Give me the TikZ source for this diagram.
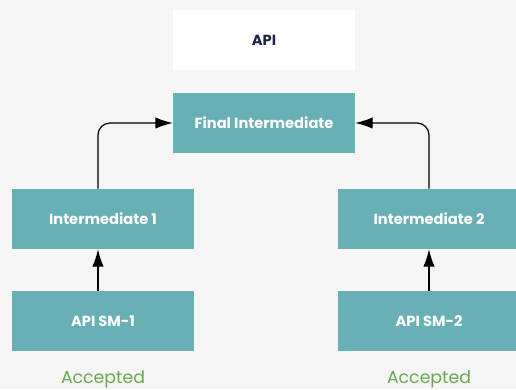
\documentclass[tikz,border=0pt]{standalone}
\usepackage{fontspec}
\setmainfont{Poppins}
\usetikzlibrary{arrows.meta}
\definecolor{pagebg}{HTML}{F5F5F5}
\definecolor{boxteal}{HTML}{68AFB6}
\definecolor{apinavy}{HTML}{1B2447}
\definecolor{okgreen}{HTML}{6AA84F}
\newcommand{\boxw}{136.5pt}
\newcommand{\boxh}{45pt}
\tikzset{
  stagebox/.style={fill=boxteal,text=white,font=\bfseries\fontsize{11}{13}\selectfont,
    minimum width=\boxw,minimum height=\boxh,inner sep=0pt},
  apibox/.style={stagebox,fill=white,text=apinavy},
  status/.style={text=okgreen,font=\fontsize{13}{15}\selectfont,anchor=base,inner sep=0pt},
  flow/.style={-{Latex[length=13pt,width=8.5pt]},line width=0.9pt},
}

\begin{document}
\begin{tikzpicture}[x=0.75pt,y=-0.75pt]
        \fill[pagebg] (0,0) rectangle (516,389);
        \useasboundingbox (0,0) rectangle (516,389);
        \node[apibox] (api) at (264,40) {API};
        \node[stagebox] (final) at (264,123) {Final Intermediate};
        \node[stagebox] (int1) at (103,219) {Intermediate 1};
        \node[stagebox] (sm1) at (103,321) {API SM-1};
        \node[stagebox] (int2) at (429,219) {Intermediate 2};
        \node[stagebox] (sm2) at (429,321) {API SM-2};
        \node[status] (acc1) at (103,383.5) {Accepted};
        \node[status] (acc2) at (429,383.5) {Accepted};
        \draw[flow] ([xshift=-3.75pt]sm1.north) -- ([xshift=-3.75pt]int1.south);
        \draw[flow] (sm2) -- (int2);
        \draw[flow,rounded corners=9pt] ([xshift=-3.75pt]int1.north) |- (final.west);
        \draw[flow,rounded corners=9pt] (int2.north) |- (final.east);
      \end{tikzpicture}
\end{document}
